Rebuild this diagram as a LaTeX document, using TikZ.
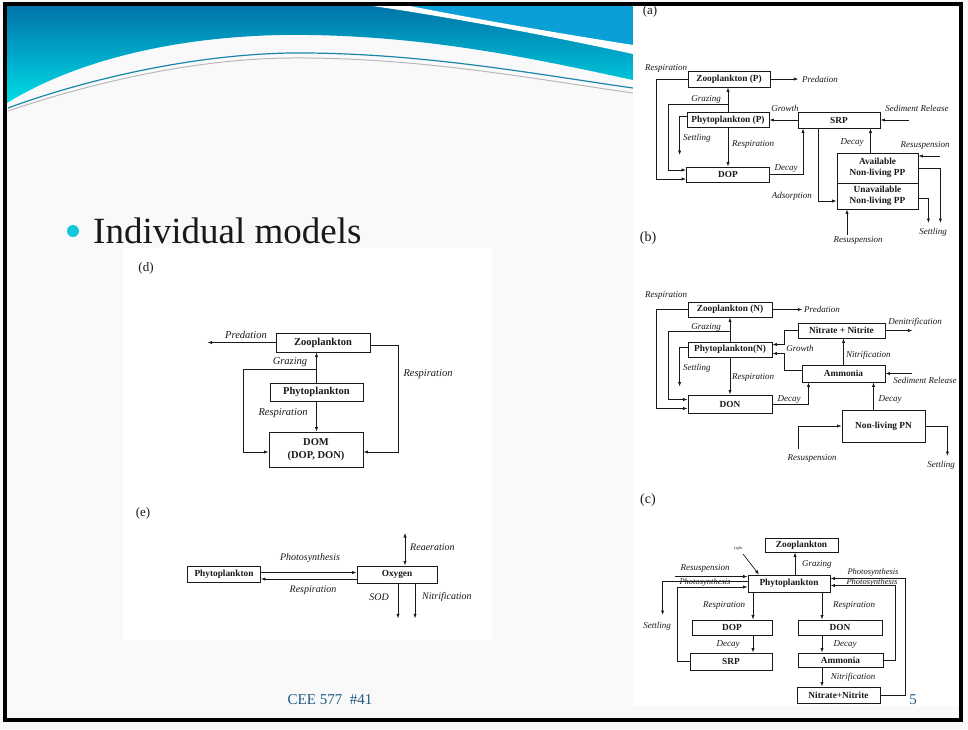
\documentclass[tikz,border=0pt]{standalone}
\usepackage{fontspec}
\setmainfont{Liberation Serif}
\usetikzlibrary{arrows.meta}
\definecolor{ink}{RGB}{25,25,25}
\definecolor{slidebg}{RGB}{249,249,249}
\definecolor{hdtop}{RGB}{0,115,168}
\definecolor{hdbot}{RGB}{0,222,232}
\definecolor{hdcorner}{RGB}{10,160,215}
\definecolor{swline}{RGB}{25,135,170}
\definecolor{bulletc}{RGB}{20,200,220}
\definecolor{footc}{RGB}{30,90,130}
\begin{document}
\begin{tikzpicture}[x=1pt,y=-1pt,
  bx/.style={draw=ink, line width=0.8pt, fill=white, inner sep=0pt, text=ink,
    font=\bfseries\fontsize{9.3}{11}\selectfont, align=center},
  bxd/.style={bx, font=\bfseries\fontsize{10.5}{13}\selectfont},
  lb/.style={inner sep=0pt, text=ink, font=\itshape\fontsize{9}{10}\selectfont},
  lbd/.style={lb, font=\itshape\fontsize{10.5}{12}\selectfont},
  lbe/.style={lb, font=\itshape\fontsize{10}{12}\selectfont},
  plab/.style={inner sep=0pt, text=ink, font=\fontsize{13}{14}\selectfont},
  arr/.style={draw=ink, line width=0.7pt, -{Latex[length=4.5pt,width=3.2pt]}},
  darr/.style={draw=ink, line width=0.7pt, {Latex[length=4.5pt,width=3.2pt]}-{Latex[length=4.5pt,width=3.2pt]}},
]
\useasboundingbox (0,0) rectangle (968,729);
% slide background
\fill[slidebg] (0,0) rectangle (968,729);
% header
\begin{scope}
\clip (7,5) -- (633,5) -- (633,80) .. controls (540,60) and (420,33) .. (280,35)
  .. controls (150,38) and (60,70) .. (7,103) -- cycle;
\shade[top color=hdtop, bottom color=hdbot] (7,5) rectangle (633,105);
\fill[hdcorner] (405,5) .. controls (480,20) and (570,35) .. (633,45) -- (633,5) -- cycle;
\fill[white] (365,5) -- (405,5) .. controls (480,20) and (570,35) .. (633,45) -- (633,54)
  .. controls (560,38) and (440,15) .. (365,5) -- cycle;
\end{scope}
\draw[line width=1.2pt, swline] (8,108) .. controls (70,85) and (180,55) .. (290,53)
  .. controls (420,52) and (540,75) .. (633,88);
\draw[line width=1pt, gray!55] (8,111) .. controls (70,90) and (180,59) .. (290,58)
  .. controls (420,57) and (540,80) .. (633,93);

% bullet
\fill[bulletc] (73,231) circle (6);
\node[anchor=base west, inner sep=0pt, text=ink, font=\fontsize{37}{40}\selectfont] (title) at (93,243) {Individual models};

% panels
\fill[white] (123,248) rectangle (492,640);
\fill[white] (633,5) rectangle (960,706);

% ================= (a) =================
\node[plab] (pa) at (650,11) {(a)};
\node[bx, minimum width=82, minimum height=16] (zpP) at (729,79) {Zooplankton (P)};
\node[bx, minimum width=82, minimum height=15] (phP) at (728,120) {Phytoplankton (P)};
\node[bx, minimum width=82, minimum height=16] (srp) at (839,120) {SRP};
\node[bx, minimum width=83, minimum height=15] (dop) at (728,174.5) {DOP};
\node[bx, minimum width=81, minimum height=30] (avl) at (877.5,168) {Available\\Non-living PP};
\node[bx, minimum width=81, minimum height=26] (unav) at (877.5,196) {Unavailable\\Non-living PP};
\coordinate (sedA) at (909,120);
\coordinate (resA1) at (940,156);
\coordinate (resA2) at (847,235);

\draw[arr] (zpP.east) -- ++(28,0);
\draw[arr] (zpP.west) -- ++(-31,0) |- ([yshift=-4.5pt]dop.west);
\draw[arr] (phP.north) -- (phP.north |- zpP.south);
\draw[arr] ([yshift=8pt]phP.north) -- ++(-60,0) |- ([yshift=4.5pt]dop.west);
\draw[arr] (srp.west) -- (phP.east);
\draw[arr] (sedA) -- (srp.east);
\draw[arr] ([yshift=4pt]phP.west) -- ++(-7,0) -- ++(0,39);
\draw[arr] (phP.south) -- (phP.south |- dop.north);
\draw[arr] (dop.east) -| ([xshift=-36pt]srp.south);
\draw[arr] ([xshift=-21pt]srp.south) |- ([yshift=-5pt]unav.west);
\draw[arr] ([xshift=-7pt]avl.north) -- ([xshift=-7pt]avl.north |- srp.south);
\draw[arr] (resA1) -- (resA1 -| avl.east);
\draw[arr] (avl.east) -- ++(22,0) -- ++(0,55);
\draw[arr] ([yshift=-2pt]unav.east) -- ++(10,0) -- ++(0,25);
\draw[arr] (resA2) -- (resA2 |- unav.south);

\node[lb] (lRespA) at (666,68) {Respiration};
\node[lb, anchor=west] (lPredA) at (802,79) {Predation};
\node[lb] (lGrazA) at (706,99) {Grazing};
\node[lb] (lGrowA) at (785,108) {Growth};
\node[lb] (lSedA) at (917,108) {Sediment Release};
\node[lb, anchor=west] (lSetA1) at (683,138) {Settling};
\node[lb, anchor=west] (lRespA2) at (732,144) {Respiration};
\node[lb] (lDecA1) at (786,169) {Decay};
\node[lb] (lDecA2) at (852,143) {Decay};
\node[lb] (lResusA1) at (925,145) {Resuspension};
\node[lb, anchor=east] (lAdsA) at (812,196) {Adsorption};
\node[lb] (lSetA2) at (933,232) {Settling};
\node[lb] (lResusA2) at (858,240) {Resuspension};

% ================= (b) =================
\node[plab, font=\fontsize{14}{15}\selectfont] (pb) at (648,238) {(b)};
\node[bx, minimum width=84, minimum height=15] (zpN) at (730,309.5) {Zooplankton (N)};
\node[bx, minimum width=84, minimum height=15] (phN) at (730,349.5) {Phytoplankton(N)};
\node[bx, minimum width=87, minimum height=15] (nit) at (841.5,330.5) {Nitrate + Nitrite};
\node[bx, minimum width=83, minimum height=17] (amm) at (843.5,373.5) {Ammonia};
\node[bx, minimum width=84, minimum height=18] (don) at (730,404) {DON};
\node[bx, minimum width=83, minimum height=32] (npn) at (883.5,426) {Non-living PN};
\coordinate (sedB) at (912,373.5);
\coordinate (resB) at (798,449);

\draw[arr] (zpN.east) -- ++(30,0);
\draw[arr] (zpN.west) -- ++(-31,0) |- ([yshift=-4.5pt]don.west);
\draw[arr] (phN.north) -- (zpN.south);
\draw[arr] ([yshift=10pt]phN.north) -- ++(-62,0) |- ([yshift=4.5pt]don.west);
\draw[arr] ([yshift=2pt]phN.west) -- ++(-8,0) -- ++(0,39);
\draw[arr] (phN.south) -- (don.north);
\draw[arr] (nit.west) -- ++(-13,0) |- ([yshift=5pt]phN.east);
\draw[arr] ([yshift=3.5pt]amm.west) -- ++(-17,0) |- ([yshift=-4pt]phN.east);
\draw[arr] (amm.north) -- (amm.north |- nit.south);
\draw[arr] (nit.east) -- ++(27,0);
\draw[arr] (sedB) -- (amm.east);
\draw[arr] (don.east) -| ([xshift=-35pt]amm.south);
\draw[arr] ([xshift=-10pt]npn.north) -- ([xshift=-10pt]npn.north |- amm.south);
\draw[arr] (resB) |- (npn.west);
\draw[arr] (npn.east) -- ++(22,0) -- ++(0,30);

\node[lb] (lRespB) at (666,295) {Respiration};
\node[lb, anchor=west] (lPredB) at (804,309) {Predation};
\node[lb] (lGrazB) at (706,327) {Grazing};
\node[lb] (lDenB) at (915,322) {Denitrification};
\node[lb] (lGrowB) at (800,348) {Growth};
\node[lb, anchor=west] (lNitB) at (846,355) {Nitrification};
\node[lb, anchor=west] (lSetB) at (683,368) {Settling};
\node[lb, anchor=west] (lRespB2) at (732,377) {Respiration};
\node[lb] (lSedB) at (925,380) {Sediment Release};
\node[lb] (lDecB1) at (789,400) {Decay};
\node[lb] (lDecB2) at (890,400) {Decay};
\node[lb] (lResusB) at (812,458) {Resuspension};
\node[lb] (lSetB2) at (941,465) {Settling};

% ================= (c) =================
\node[plab, font=\fontsize{14}{15}\selectfont] (pc) at (648,500) {(c)};
\node[bx, minimum width=73, minimum height=14] (zpC) at (801.5,545) {Zooplankton};
\node[bx, minimum width=82, minimum height=17] (phC) at (789,583.5) {Phytoplankton};
\node[bx, minimum width=80, minimum height=15] (dopC) at (732,627.5) {DOP};
\node[bx, minimum width=84, minimum height=15] (donC) at (840,627.5) {DON};
\node[bx, minimum width=82, minimum height=17] (srpC) at (731,661.5) {SRP};
\node[bx, minimum width=85, minimum height=14] (ammC) at (840.5,660) {Ammonia};
\node[bx, minimum width=83, minimum height=16] (nitC) at (838.5,695) {Nitrate+Nitrite};
\coordinate (lightC) at (743,554);
\coordinate (resC) at (675,576.5);

\draw[arr] ([xshift=6pt]phC.north) -- ([xshift=6pt]phC.north |- zpC.south);
\draw[arr] (lightC) -- ([xshift=-30pt]phC.north);
\draw[arr] (resC) -- (resC -| phC.west);
\draw[arr] ([yshift=2.5pt]phC.west) -- ++(-85,0) -- ++(0,34);
\draw[arr] (srpC.west) -- ++(-12,0) |- ([yshift=-3.5pt]phC.west);
\draw[arr] (ammC.east) -- ++(12,0) |- ([yshift=-2pt]phC.east);
\draw[arr] (nitC.east) -- ++(25,0) |- ([yshift=5pt]phC.east);
\draw[arr] ([xshift=-36pt]phC.south) -- ([xshift=-36pt]phC.south |- dopC.north);
\draw[arr] ([xshift=33pt]phC.south) -- ([xshift=33pt]phC.south |- donC.north);
\draw[arr] ([xshift=21pt]dopC.south) -- ([xshift=21pt]dopC.south |- srpC.north);
\draw[arr] ([xshift=-18pt]donC.south) -- ([xshift=-18pt]donC.south |- ammC.north);
\draw[arr] ([xshift=-18.5pt]ammC.south) -- ([xshift=-18.5pt]ammC.south |- nitC.north);

\node[lb, font=\itshape\fontsize{4}{5}\selectfont] (lLightC) at (738,549) {Light};
\node[lb] (lResusC) at (705,568) {Resuspension};
\node[lb, anchor=west] (lGrazC) at (802,564) {Grazing};
\node[lb, font=\itshape\fontsize{8.5}{9}\selectfont] (lPhotC1) at (705,582) {Photosynthesis};
\node[lb, font=\itshape\fontsize{8.5}{9}\selectfont] (lPhotC2) at (873,572) {Photosynthesis};
\node[lb, font=\itshape\fontsize{8.5}{9}\selectfont] (lPhotC3) at (872,582) {Photosynthesis};
\node[lb] (lSetC) at (657,626) {Settling};
\node[lb] (lRespC1) at (724,605) {Respiration};
\node[lb] (lRespC2) at (854,605) {Respiration};
\node[lb] (lDecC1) at (728,645) {Decay};
\node[lb] (lDecC2) at (845,645) {Decay};
\node[lb] (lNitC) at (853,677) {Nitrification};

% ================= (d) =================
\node[plab] (pd) at (146,268) {(d)};
\node[bxd, minimum width=94, minimum height=19] (zpD) at (323,342.5) {Zooplankton};
\node[bxd, minimum width=93, minimum height=18] (phD) at (316.5,392) {Phytoplankton};
\node[bxd, minimum width=94, minimum height=35] (domD) at (316,449.5) {DOM\\(DOP, DON)};

\draw[arr] (zpD.west) -- ++(-68,0);
\draw[arr] (phD.north) -- (phD.north |- zpD.south);
\draw[arr] ([yshift=13pt]phD.north) -- ++(-73,0) |- ([yshift=-2.5pt]domD.west);
\draw[arr] (phD.south) -- (phD.south |- domD.north);
\draw[arr] ([yshift=-3pt]zpD.east) -- ++(28,0) |- ([yshift=-2.5pt]domD.east);

\node[lbd] (lPredD) at (246,335) {Predation};
\node[lbd] (lGrazD) at (290,362) {Grazing};
\node[lbd] (lRespD1) at (283,413) {Respiration};
\node[lbd] (lRespD2) at (428,374) {Respiration};

% ================= (e) =================
\node[plab] (pe) at (143,513) {(e)};
\node[bx, minimum width=73, minimum height=16] (phE) at (224,574.5) {Phytoplankton};
\node[bx, minimum width=80, minimum height=17] (oxE) at (397,574.5) {Oxygen};
\coordinate (reaE) at (405,533);

\draw[arr] ([yshift=2pt]phE.east) -- ([yshift=2pt]phE.east -| oxE.west);
\draw[arr] ([yshift=-4.5pt]oxE.west) -- ([yshift=-4.5pt]oxE.west -| phE.east);
\draw[darr] (reaE) -- (reaE |- oxE.north);
\draw[arr] ([xshift=1pt]oxE.south) -- ++(0,35);
\draw[arr] ([xshift=18pt]oxE.south) -- ++(0,35);

\node[lbe] (lPhotE) at (310,558) {Photosynthesis};
\node[lbe] (lRespE) at (313,590) {Respiration};
\node[lbe, anchor=west] (lReaE) at (410,547) {Reaeration};
\node[lbe] (lSodE) at (379,597) {SOD};
\node[lbe, anchor=west] (lNitE) at (422,597) {Nitrification};

% footer
\node[inner sep=0pt, text=footc, font=\fontsize{15}{16}\selectfont] (foot) at (330,700) {CEE 577\ \ \#41};
\node[inner sep=0pt, text=footc, font=\fontsize{15}{16}\selectfont] (pnum) at (913,700) {5};

% frame
\draw[line width=3.5pt, black] (5,4) rectangle (961,720);
\end{tikzpicture}
\end{document}
